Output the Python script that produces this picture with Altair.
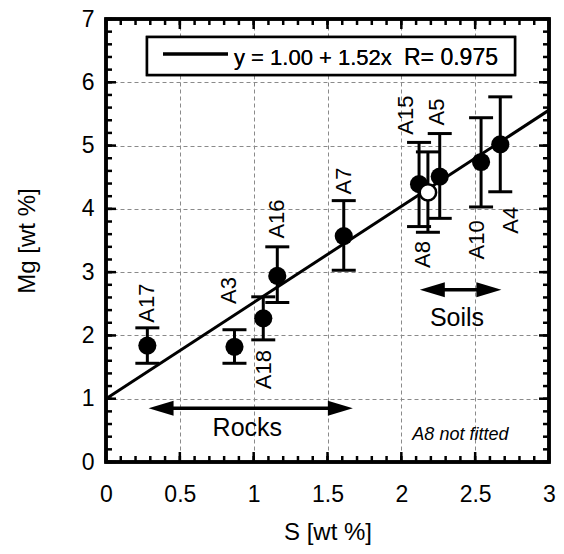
import altair as alt
import pandas as pd

# ---- data ----
names = ["A17", "A3", "A18", "A16", "A7", "A15", "A8", "A5", "A10", "A4"]
s_wt = [0.28, 0.87, 1.065, 1.16, 1.61, 2.12, 2.18, 2.26, 2.54, 2.67]
mg_wt = [1.84, 1.82, 2.27, 2.94, 3.57, 4.39, 4.26, 4.51, 4.74, 5.02]
mg_lo = [1.56, 1.56, 1.93, 2.52, 3.03, 3.72, 3.63, 3.85, 4.03, 4.27]
mg_hi = [2.12, 2.09, 2.61, 3.40, 4.13, 5.05, 4.90, 5.19, 5.44, 5.77]
fitted = [True, True, True, True, True, True, False, True, True, True]

# fit line y = 1.00 + 1.52x (end points)
fit_s = [0.0, 3.0]
fit_mg = [1.00, 5.56]

x_major = [0, 0.5, 1, 1.5, 2, 2.5, 3]
x_minor = [i / 10 for i in range(31)]
y_major = [0, 1, 2, 3, 4, 5, 6, 7]
y_minor = [i / 5 for i in range(36)]

# annotation placement (layout, not data)
label_s = [0.277, 0.83, 1.07, 1.155, 1.61, 2.03, 2.15, 2.24, 2.51, 2.74]
label_mg = [2.51, 2.71, 1.46, 3.84, 4.44, 5.48, 3.28, 5.53, 3.51, 3.82]

W, H = 443, 443
FONT = "Liberation Sans"

xs = alt.Scale(domain=[0, 3], nice=False, zero=False)
ys = alt.Scale(domain=[0, 7], nice=False, zero=False)

df = pd.DataFrame(dict(name=names, s=s_wt, mg=mg_wt, lo=mg_lo, hi=mg_hi,
                       fitted=fitted, lx=label_s, ly=label_mg))
fit_df = pd.DataFrame(dict(s=fit_s, mg=fit_mg))

x_axis = alt.Axis(values=x_major, format="~g", grid=True, gridDash=[4, 3],
                  gridColor="#8a8a8a", gridWidth=1, domain=False, ticks=False,
                  tickSize=0, labelFont=FONT, labelFontSize=23, labelPadding=21,
                  labelColor="black", labelFlush=False, title="S [wt %]",
                  titleFont=FONT, titleFontSize=24, titleFontWeight="normal",
                  titlePadding=14, titleColor="black")
y_axis = alt.Axis(values=y_major, format="~g", grid=True, gridDash=[4, 3],
                  gridColor="#8a8a8a", gridWidth=1, domain=False, ticks=False,
                  tickSize=0, labelFont=FONT, labelFontSize=23, labelPadding=12,
                  labelColor="black", labelFlush=False, title="Mg [wt %]",
                  titleFont=FONT, titleFontSize=24, titleFontWeight="normal",
                  titlePadding=42, titleColor="black")


def X(f):
    return alt.X(f, scale=xs, axis=x_axis)


def Y(f):
    return alt.Y(f, scale=ys, axis=y_axis)


fit_line = alt.Chart(fit_df).mark_line(color="black", strokeWidth=3, clip=True).encode(
    x=X("s:Q"), y=Y("mg:Q"))

err = alt.Chart(df).mark_rule(color="black", strokeWidth=3).encode(
    x=X("s:Q"), y=Y("lo:Q"), y2="hi:Q")
cap_lo = alt.Chart(df).mark_tick(color="black", orient="horizontal", size=24,
                                 thickness=3, opacity=1).encode(x=X("s:Q"), y=Y("lo:Q"))
cap_hi = alt.Chart(df).mark_tick(color="black", orient="horizontal", size=24,
                                 thickness=3, opacity=1).encode(x=X("s:Q"), y=Y("hi:Q"))

pts = alt.Chart(df).transform_filter("datum.fitted").mark_point(
    shape="circle", filled=True, color="black", size=330, opacity=1).encode(
    x=X("s:Q"), y=Y("mg:Q"))
open_pts = alt.Chart(df).transform_filter("!datum.fitted").mark_point(
    shape="circle", filled=True, fill="white", stroke="black", strokeWidth=2.5,
    size=270, opacity=1).encode(x=X("s:Q"), y=Y("mg:Q"))

labels = alt.Chart(df).mark_text(angle=270, align="center", baseline="middle",
                                 font=FONT, fontSize=22, color="black").encode(
    x=X("lx:Q"), y=Y("ly:Q"), text="name:N")

# arrows (Rocks / Soils)
arrow_df = pd.DataFrame(dict(
    grp=["Rocks", "Rocks", "Soils", "Soils"],
    s=[0.373, 1.587, 2.21, 2.593],
    mg=[0.85, 0.85, 2.72, 2.72],
    dirn=["left", "right", "left", "right"],
))
shaft = alt.Chart(arrow_df).mark_line(color="black", strokeWidth=3.5).encode(
    x=X("s:Q"), y=Y("mg:Q"), detail="grp:N")
head_r = alt.Chart(arrow_df).transform_filter("datum.dirn=='right'").mark_point(
    shape="M-1,-0.6L1,0L-1,0.6Z", filled=True, color="black", size=625, opacity=1).encode(
    x=X("s:Q"), y=Y("mg:Q"))
head_l = alt.Chart(arrow_df).transform_filter("datum.dirn=='left'").mark_point(
    shape="M1,-0.6L-1,0L1,0.6Z", filled=True, color="black", size=625, opacity=1).encode(
    x=X("s:Q"), y=Y("mg:Q"))

ann_df = pd.DataFrame(dict(txt=["Rocks", "Soils"], s=[0.957, 2.377], mg=[0.418, 2.15]))
ann = alt.Chart(ann_df).mark_text(align="center", baseline="alphabetic",
                                  font=FONT, fontSize=25, color="black").encode(
    x=X("s:Q"), y=Y("mg:Q"), text="txt:N")
note = alt.Chart(pd.DataFrame(dict(txt=["A8 not fitted"], s=[2.40], mg=[0.34]))).mark_text(
    align="center", baseline="alphabetic", font=FONT, fontSize=18,
    fontStyle="italic", color="black").encode(x=X("s:Q"), y=Y("mg:Q"), text="txt:N")

# legend box
leg_box = alt.Chart(fit_df).mark_rect(fill="white", stroke="black", strokeWidth=2.5).encode(
    x=alt.value(41), x2=alt.value(409), y=alt.value(18), y2=alt.value(56))
leg_line = alt.Chart(fit_df).mark_rule(color="black", strokeWidth=3).encode(
    x=alt.value(57), x2=alt.value(122), y=alt.value(35))
leg_txt1 = alt.Chart(fit_df).mark_text(align="left", baseline="alphabetic", font=FONT,
                                       fontSize=22, color="black").encode(
    x=alt.value(128), y=alt.value(46), text=alt.value("y = 1.00 + 1.52x"))
leg_txt2 = alt.Chart(fit_df).mark_text(align="left", baseline="alphabetic", font=FONT,
                                       fontSize=23, color="black").encode(
    x=alt.value(298), y=alt.value(46), text=alt.value("R= 0.975"))

# inward ticks on all four sides
xmaj = pd.DataFrame(dict(v=x_major))
xmin = pd.DataFrame(dict(v=x_minor))
ymaj = pd.DataFrame(dict(v=y_major))
ymin = pd.DataFrame(dict(v=y_minor))


def xticks(d, length):
    bot = alt.Chart(d).mark_rule(color="black", strokeWidth=2.5).encode(
        x=X("v:Q"), y=alt.value(H), y2=alt.value(H - length))
    top = alt.Chart(d).mark_rule(color="black", strokeWidth=2.5).encode(
        x=X("v:Q"), y=alt.value(0), y2=alt.value(length))
    return [bot, top]


def yticks(d, length):
    left = alt.Chart(d).mark_rule(color="black", strokeWidth=2.5).encode(
        y=Y("v:Q"), x=alt.value(0), x2=alt.value(length))
    right = alt.Chart(d).mark_rule(color="black", strokeWidth=2.5).encode(
        y=Y("v:Q"), x=alt.value(W), x2=alt.value(W - length))
    return [left, right]


ticks = xticks(xmin, 6) + xticks(xmaj, 10) + yticks(ymin, 6) + yticks(ymaj, 10)

frame = alt.Chart(fit_df).mark_rect(filled=False, stroke="black", strokeWidth=3.5).encode(
    x=alt.value(0), x2=alt.value(W), y=alt.value(0), y2=alt.value(H))

chart = alt.layer(
    fit_line, err, cap_lo, cap_hi, pts, open_pts, labels,
    shaft, head_l, head_r, ann, note, leg_box, leg_line, leg_txt1, leg_txt2,
    *ticks, frame,
).properties(
    width=W, height=H,
    autosize=alt.AutoSizeParams(type="none"),
    padding={"left": 98, "top": 11, "right": 7, "bottom": 84},
).configure_view(stroke=None)

chart.save("out.html", embed_options={"renderer": "svg", "actions": False})
